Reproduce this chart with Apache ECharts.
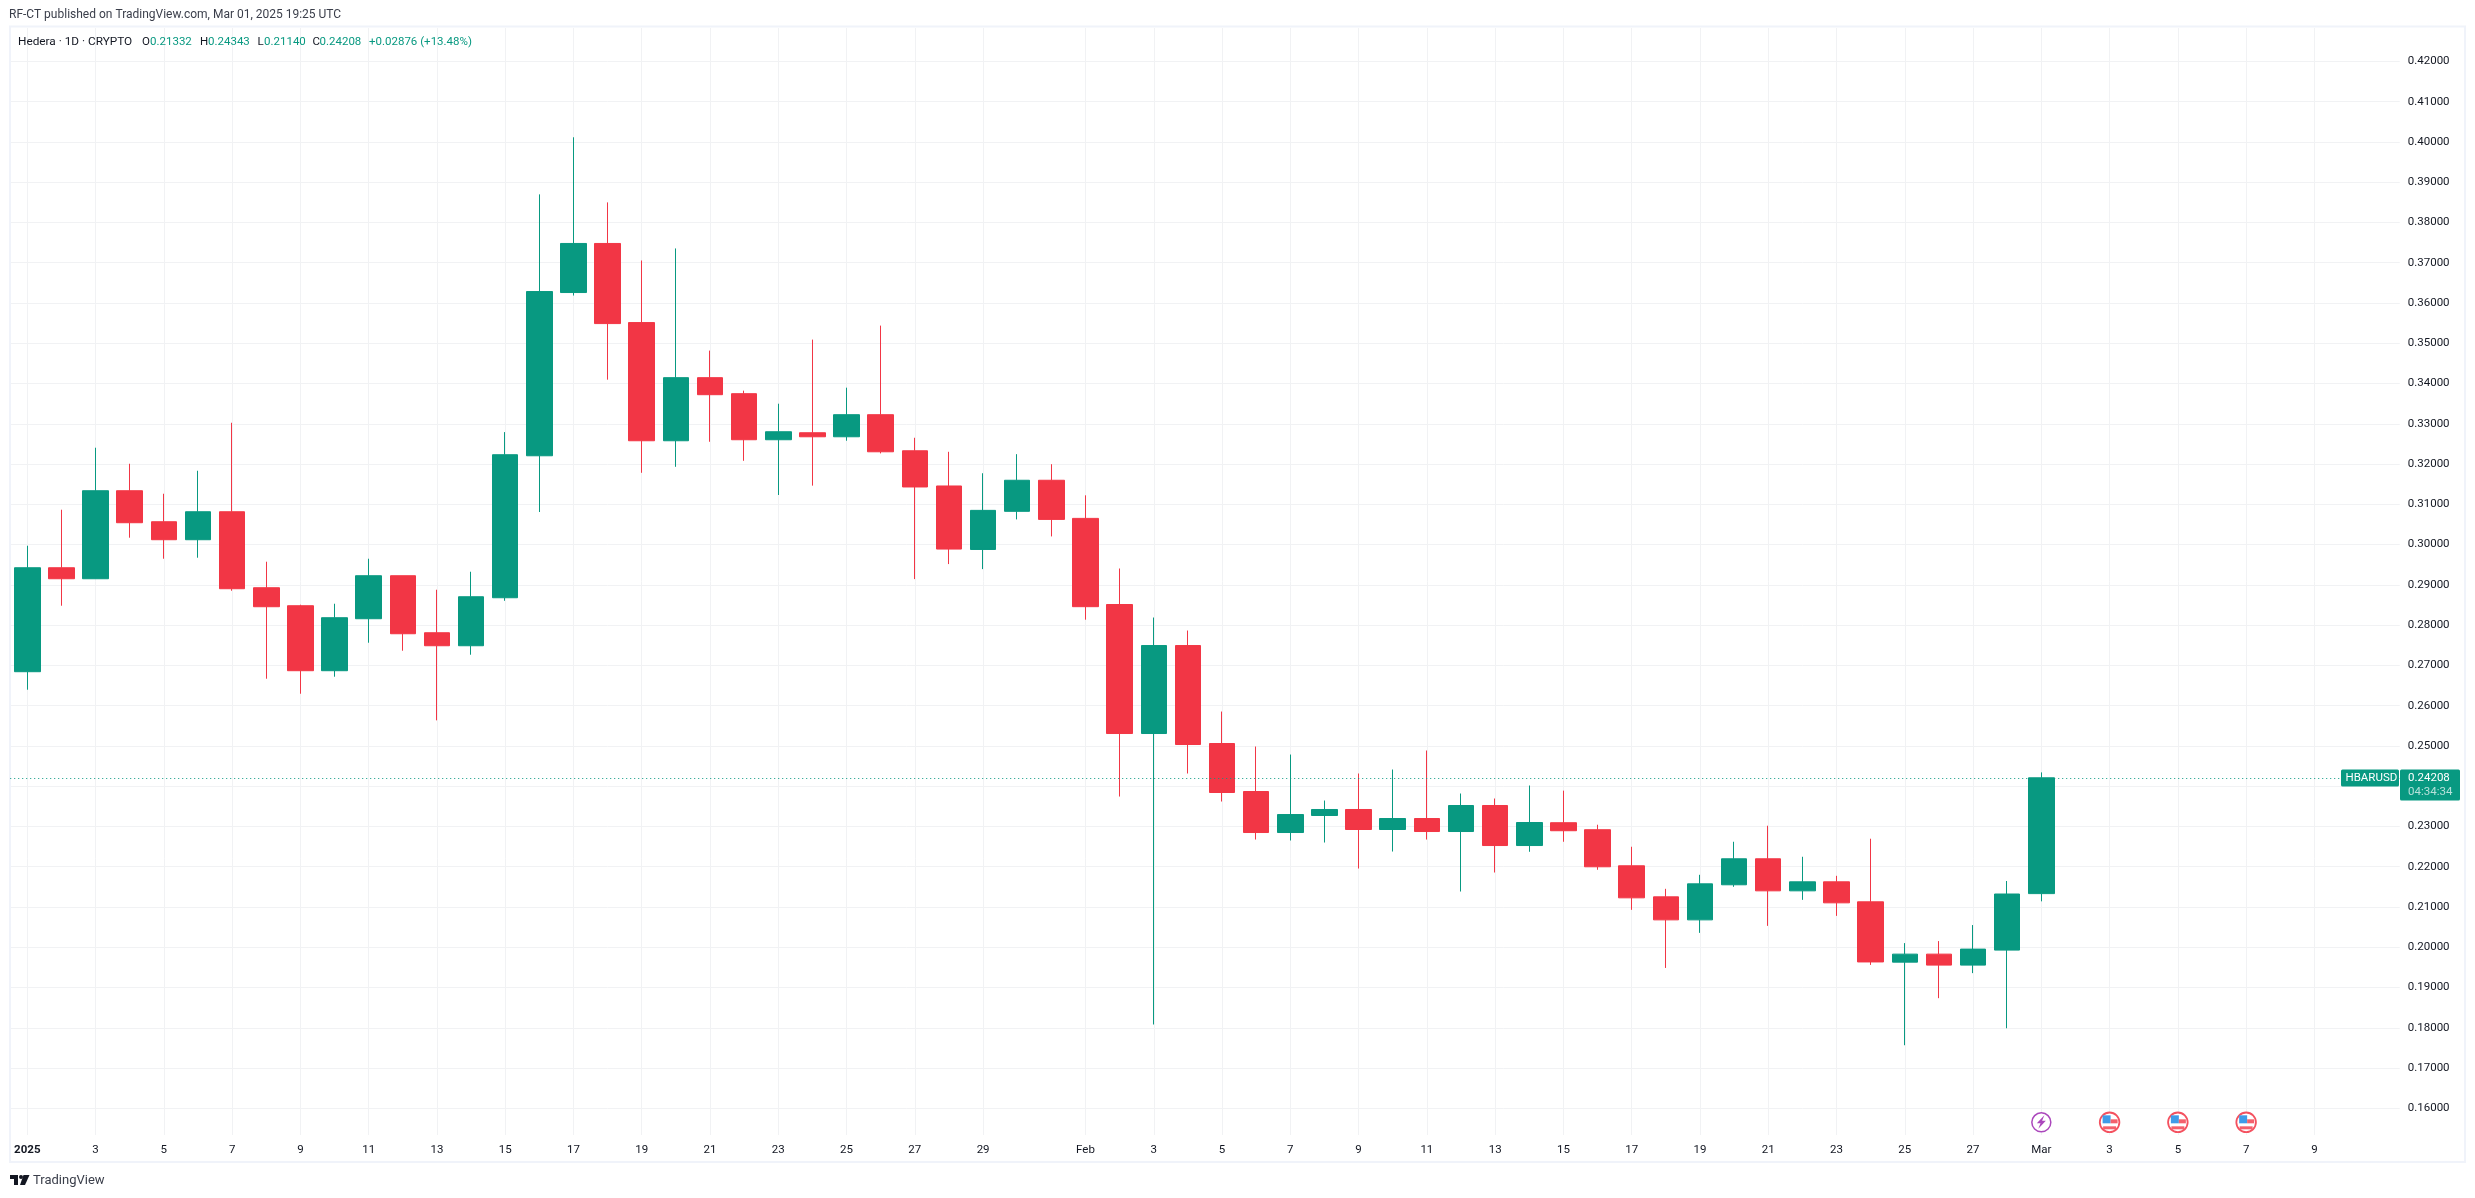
<!DOCTYPE html>
<html>
<head>
<meta charset="utf-8">
<title>HBARUSD</title>
<script src="https://cdn.jsdelivr.net/npm/echarts@6/dist/echarts.min.js"></script>
<style>
  html, body { margin: 0; padding: 0; background: #fff; }
  #chart { width: 2475px; height: 1198px; }
</style>
</head>
<body>
<div id="chart"></div>
<script>
const categories = [
  "Jan 1", "Jan 2", "Jan 3", "Jan 4", "Jan 5", "Jan 6", "Jan 7", "Jan 8", "Jan 9", "Jan 10",
  "Jan 11", "Jan 12", "Jan 13", "Jan 14", "Jan 15", "Jan 16", "Jan 17", "Jan 18", "Jan 19", "Jan 20",
  "Jan 21", "Jan 22", "Jan 23", "Jan 24", "Jan 25", "Jan 26", "Jan 27", "Jan 28", "Jan 29", "Jan 30", "Jan 31",
  "Feb 1", "Feb 2", "Feb 3", "Feb 4", "Feb 5", "Feb 6", "Feb 7", "Feb 8", "Feb 9", "Feb 10",
  "Feb 11", "Feb 12", "Feb 13", "Feb 14", "Feb 15", "Feb 16", "Feb 17", "Feb 18", "Feb 19", "Feb 20",
  "Feb 21", "Feb 22", "Feb 23", "Feb 24", "Feb 25", "Feb 26", "Feb 27", "Feb 28",
  "Mar 1", "Mar 2", "Mar 3", "Mar 4", "Mar 5", "Mar 6", "Mar 7", "Mar 8", "Mar 9", "Mar 10", "Mar 11",
];
// what the time axis prints for each category, "" = no tick
const dayLabels = [
  "2025", "", "3", "", "5", "", "7", "", "9", "",
  "11", "", "13", "", "15", "", "17", "", "19", "",
  "21", "", "23", "", "25", "", "27", "", "29", "", "",
  "Feb", "", "3", "", "5", "", "7", "", "9", "",
  "11", "", "13", "", "15", "", "17", "", "19", "",
  "21", "", "23", "", "25", "", "27", "",
  "Mar", "", "3", "", "5", "", "7", "", "9", "", "",
];
const priceTicks = [
  0.16, 0.17, 0.18, 0.19, 0.2, 0.21, 0.22, 0.23, 0.24, 0.25, 0.26, 0.27, 0.28, 0.29,
  0.3, 0.31, 0.32, 0.33, 0.34, 0.35, 0.36, 0.37, 0.38, 0.39, 0.4, 0.41, 0.42,
];

const opens = [
  0.26843, 0.29425, 0.29152, 0.31338, 0.30568, 0.30121, 0.30816, 0.28929, 0.28482, 0.26868,
  0.28159, 0.29227, 0.27811, 0.27488, 0.2868, 0.32206, 0.3626, 0.37479, 0.35514, 0.32579,
  0.34146, 0.33748, 0.32604, 0.32778, 0.32678, 0.33226, 0.3233, 0.31456, 0.29879, 0.30826,
  0.31598, 0.30651, 0.28512, 0.25308, 0.27493, 0.2506, 0.23868, 0.22849, 0.23272, 0.23421,
  0.22924, 0.23197, 0.22874, 0.2352, 0.22526, 0.23093, 0.22919, 0.22023, 0.21252, 0.2068,
  0.21551, 0.22197, 0.21401, 0.21625, 0.21128, 0.1963, 0.19829, 0.19556, 0.19929, 0.21332,
];
const closes = [
  0.29425, 0.29152, 0.31338, 0.30543, 0.30121, 0.30816, 0.28904, 0.28457, 0.26868, 0.28184,
  0.29227, 0.27786, 0.27488, 0.28705, 0.32232, 0.36285, 0.37479, 0.35489, 0.32579, 0.34146,
  0.33723, 0.32604, 0.32803, 0.32678, 0.33226, 0.32305, 0.31431, 0.29889, 0.3085, 0.31598,
  0.30626, 0.28458, 0.25308, 0.27493, 0.25035, 0.23843, 0.22849, 0.23296, 0.23421, 0.22924,
  0.23197, 0.22874, 0.2352, 0.22526, 0.23098, 0.22894, 0.21998, 0.21227, 0.2068, 0.21575,
  0.22197, 0.21401, 0.21625, 0.21103, 0.19635, 0.19829, 0.19556, 0.19954, 0.21322, 0.24208,
];
const lows = [
  0.26396, 0.28482, 0.29152, 0.30171, 0.29649, 0.29674, 0.28854, 0.26669, 0.26296, 0.26719,
  0.27563, 0.27364, 0.25635, 0.27265, 0.28604, 0.30809, 0.36186, 0.34096, 0.31783, 0.31932,
  0.32554, 0.32081, 0.31232, 0.31464, 0.32579, 0.32265, 0.29143, 0.29516, 0.29391, 0.30626,
  0.30203, 0.28135, 0.23743, 0.18081, 0.24315, 0.23619, 0.22675, 0.22651, 0.22601, 0.21955,
  0.22377, 0.22675, 0.21384, 0.21856, 0.22371, 0.2262, 0.21924, 0.20929, 0.19486, 0.20357,
  0.21501, 0.20531, 0.21177, 0.20779, 0.19561, 0.17566, 0.18735, 0.19357, 0.17988, 0.2114,
];
const highs = [
  0.29972, 0.30866, 0.32406, 0.32008, 0.31263, 0.31834, 0.33026, 0.29575, 0.28507, 0.28531,
  0.29649, 0.29227, 0.28879, 0.29326, 0.32794, 0.38698, 0.40116, 0.38499, 0.37056, 0.37355,
  0.34818, 0.33823, 0.33499, 0.35091, 0.33897, 0.35439, 0.32653, 0.32305, 0.31772, 0.32246,
  0.31997, 0.31224, 0.29406, 0.28189, 0.27866, 0.25854, 0.24985, 0.24786, 0.23644, 0.24315,
  0.24414, 0.24886, 0.23818, 0.23694, 0.24017, 0.23889, 0.23043, 0.22496, 0.21451, 0.21799,
  0.2262, 0.23018, 0.22247, 0.21774, 0.22695, 0.20103, 0.20153, 0.20551, 0.21645, 0.24343,
];
const candles = opens.map((o, i) => [o, closes[i], lows[i], highs[i]]);

const eventDays = ["Mar 1", "Mar 3", "Mar 5", "Mar 7"];
const eventKinds = ["bolt", "flag", "flag", "flag"];

const UP = "#089981";
const DOWN = "#F23645";
const INK = "#131722";
const GRID = "#f1f2f4";
const FONT = "Roboto, sans-serif";

const chart = echarts.init(document.getElementById("chart"));

// small circular calendar icons under the last candles
const renderEvent = (params, api) => {
  const pos = api.coord([api.value(0), 0.15652]);
  const kind = eventKinds[params.dataIndex];
  const children = [];
  if (kind === "bolt") {
    children.push({
      type: "circle",
      shape: { cx: 0, cy: 0, r: 9.5 },
      style: { fill: "#fff", stroke: "#ab47bc", lineWidth: 1.5 },
    });
    children.push({
      type: "polygon",
      shape: { points: [[3, -7], [-4.5, 1], [-0.8, 1], [-3, 6.5], [4.5, -1.5], [0.8, -1.5]] },
      style: { fill: "#ab47bc" },
    });
  } else {
    children.push({
      type: "circle",
      shape: { cx: 0, cy: 0, r: 9.8 },
      style: { fill: "#fff", stroke: "#f4515f", lineWidth: 1.8 },
    });
    children.push({ type: "rect", shape: { x: -7, y: -7, width: 8, height: 8 }, style: { fill: "#3f9be8" } });
    children.push({ type: "rect", shape: { x: 1, y: -3, width: 7, height: 4 }, style: { fill: "#f4606c" } });
    children.push({ type: "rect", shape: { x: -6.5, y: 4, width: 13, height: 3 }, style: { fill: "#f4606c" } });
  }
  return { type: "group", x: pos[0], y: pos[1], children };
};

const option = {
  animation: false,
  backgroundColor: "#ffffff",
  grid: { left: 10.23, right: 75.25, top: 28, bottom: 63, containLabel: false },
  xAxis: {
    type: "category",
    data: categories,
    boundaryGap: true,
    axisLine: { show: false },
    axisTick: { show: false, alignWithLabel: true, interval: (i) => dayLabels[i] !== "" },
    axisLabel: {
      interval: (i) => dayLabels[i] !== "",
      formatter: (v, i) => (dayLabels[i] === "2025" ? "{b|2025}" : dayLabels[i]),
      margin: 9,
      color: INK,
      fontFamily: FONT,
      fontSize: 11.5,
      rich: { b: { fontWeight: "bold", fontFamily: FONT, fontSize: 11.5, color: INK } },
    },
    splitLine: {
      show: true,
      alignWithLabel: true,
      interval: (i) => dayLabels[i] !== "",
      lineStyle: { color: GRID, width: 1 },
    },
  },
  yAxis: {
    type: "value",
    position: "right",
    min: 0.15337,
    max: 0.4283,
    axisLine: { show: false },
    axisTick: { show: false, customValues: priceTicks },
    axisLabel: {
      customValues: priceTicks,
      formatter: (v) => v.toFixed(5),
      margin: 8,
      color: INK,
      fontFamily: FONT,
      fontSize: 11.5,
      showMinLabel: true,
      showMaxLabel: true,
    },
    splitLine: { show: true, lineStyle: { color: GRID, width: 1 } },
  },
  series: [
    {
      type: "candlestick",
      data: candles,
      barWidth: 26,
      itemStyle: { color: UP, color0: DOWN, borderColor: UP, borderColor0: DOWN, borderWidth: 1 },
      markLine: {
        silent: true,
        symbol: "none",
        precision: 5,
        label: { show: false },
        lineStyle: { color: UP, type: [1, 3], width: 1 },
        data: [{ yAxis: closes[closes.length - 1] }],
      },
    },
    {
      type: "custom",
      data: eventDays.map((d) => [d]),
      encode: { x: 0 },
      clip: false,
      silent: true,
      renderItem: renderEvent,
    },
  ],
};
chart.setOption(option);

// chrome around the plot: frame, header, OHLC legend, price tags, logo
const last = opens.length - 1;
const fmt = (v) => v.toFixed(5);
const lastY = Math.round(chart.convertToPixel({ yAxisIndex: 0 }, closes[last]));

const text = (x, y, str, fill, size, extra) => ({
  type: "text",
  x,
  y,
  silent: true,
  z: 20,
  style: Object.assign({ text: str, fill, fontSize: size, fontFamily: FONT, textVerticalAlign: "middle" }, extra || {}),
});

const legendParts = [
  [18, "Hedera · 1D · CRYPTO", INK, 11.8],
  [142, "O", INK, 11.5], [150, fmt(opens[last]), UP, 11.5],
  [200, "H", INK, 11.5], [208, fmt(highs[last]), UP, 11.5],
  [257.5, "L", INK, 11.5], [264, fmt(lows[last]), UP, 11.5],
  [312.5, "C", INK, 11.5], [319.5, fmt(closes[last]), UP, 11.5],
  [369, "+0.02876 (+13.48%)", UP, 11.5],
];

chart.setOption({
  graphic: [
    {
      type: "rect",
      silent: true,
      z: 1,
      shape: { x: 10, y: 26.5, width: 2455, height: 1135.5 },
      style: { fill: "transparent", stroke: "#f0f3fa", lineWidth: 2 },
    },
    text(9, 15, "RF-CT published on TradingView.com, Mar 01, 2025 19:25 UTC", "#3a3e4a", 12),
    ...legendParts.map((p) => text(p[0], 42, p[1], p[2], p[3])),
    // last price tags
    {
      type: "rect",
      z: 19,
      silent: true,
      shape: { x: 2341, y: lastY - 8.5, width: 58, height: 17, r: 1.5 },
      style: { fill: UP },
    },
    text(2345.5, lastY, "HBARUSD", "#ffffff", 11.5),
    {
      type: "rect",
      z: 19,
      silent: true,
      shape: { x: 2400, y: lastY - 8.5, width: 60, height: 31, r: 1.5 },
      style: { fill: UP },
    },
    text(2408, lastY, fmt(closes[last]), "#ffffff", 11.5),
    text(2408, lastY + 14, "04:34:34", "rgba(255,255,255,0.7)", 11.5),
    // logo
    {
      type: "group",
      x: 10,
      y: 1175,
      silent: true,
      z: 20,
      children: [
        { type: "polygon", shape: { points: [[0, 0], [8, 0], [8, 10], [4, 10], [4, 4], [0, 4]] }, style: { fill: INK } },
        { type: "circle", shape: { cx: 11, cy: 2, r: 2 }, style: { fill: INK } },
        { type: "polygon", shape: { points: [[13.5, 0], [19.5, 0], [15, 10], [10, 10]] }, style: { fill: INK } },
      ],
    },
    text(33, 1181, "TradingView", "#3a3e4a", 13),
  ],
});

window.addEventListener("resize", () => {
  chart.resize();
});
</script>
</body>
</html>
